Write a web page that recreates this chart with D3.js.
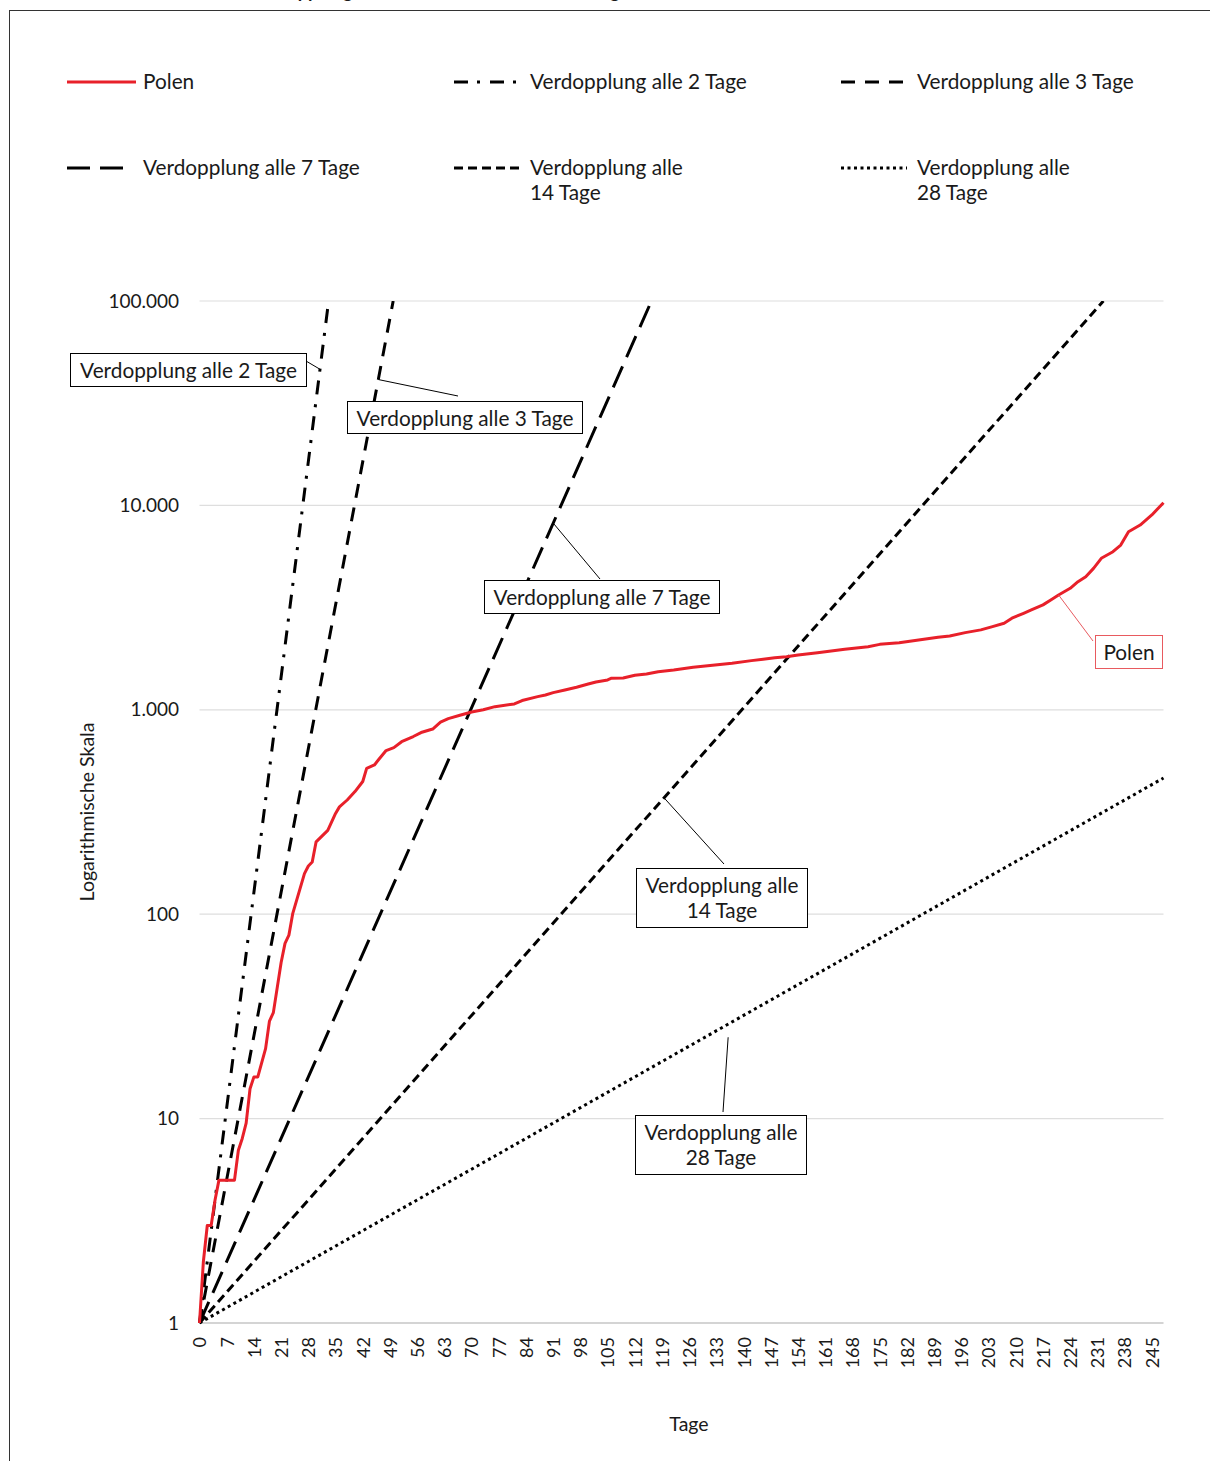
<!DOCTYPE html>
<html>
<head>
<meta charset="utf-8">
<script src="https://cdn.jsdelivr.net/npm/d3@7"></script>
<style>
  body { margin: 0; background: #fff; }
  svg text { font-family: Lato, "Noto Sans", sans-serif; fill: #1a1a1a; }
</style>
</head>
<body>
<svg id="chart" width="1210" height="1461"></svg>
<script>
// Cumulative deaths in Poland, days since the first death
const polenDays = [0,1,2,3,4,5,9,10,11,12,13,14,15,17,18,19,21,22,23,24,27,28,29,30,33,35,36,38,40,42,43,45,46,48,50,52,55,57,60,62,64,67,70,73,76,81,83,87,89,91,94,97,100,102,105,106,109,112,115,118,122,127,132,137,142,145,148,151,154,159,163,166,172,175,180,185,190,193,197,201,204,207,209,212,214,217,219,221,224,226,228,230,232,235,237,239,242,245,248];
const polenDeaths = [1,2,3,3,4,5,5,7,8,9.5,14,16,16,22,30,33,58,72,79,101,158,172,180,226,257,311,335,362,398,446,517,537,568,632,653,698,740,774,805,870,905,940,976,1000,1036,1068,1110,1160,1182,1213,1250,1289,1337,1368,1400,1427,1430,1475,1497,1536,1566,1615,1652,1690,1740,1767,1799,1820,1855,1903,1945,1977,2036,2090,2128,2193,2263,2296,2385,2460,2553,2651,2806,2967,3080,3261,3447,3647,3930,4233,4480,4920,5510,5935,6395,7430,8015,8980,10310];

// Reference lines: constant doubling time in days
const doublingPeriods = [2, 3, 7, 14, 28];
const doublingNames = ["Verdopplung alle 2 Tage", "Verdopplung alle 3 Tage", "Verdopplung alle 7 Tage",
                       "Verdopplung alle 14 Tage", "Verdopplung alle 28 Tage"];

const xTickLabels = [0,7,14,21,28,35,42,49,56,63,70,77,84,91,98,105,112,119,126,133,140,147,154,161,168,175,182,189,196,203,210,217,224,231,238,245];
const yTickValues = [1, 10, 100, 1000, 10000, 100000];
const yTickLabels = ["1", "10", "100", "1.000", "10.000", "100.000"];

const RED = "#e8202a";
const FONT = 20.8;
const lineStyle = {
  "Polen": { stroke: RED, dash: null },
  "Verdopplung alle 2 Tage": { stroke: "#000", dash: "14,9,3,10" },
  "Verdopplung alle 3 Tage": { stroke: "#000", dash: "14,10" },
  "Verdopplung alle 7 Tage": { stroke: "#000", dash: "23,10" },
  "Verdopplung alle 14 Tage": { stroke: "#000", dash: "9,5" },
  "Verdopplung alle 28 Tage": { stroke: "#000", dash: "3,3.5" }
};

const svg = d3.select("#chart");

// Frame and heading running off the top edge
svg.append("rect").attr("x", 9.5).attr("y", 10.5).attr("width", 1220).attr("height", 1470)
  .attr("fill", "none").attr("stroke", "#333").attr("stroke-width", 1);
svg.append("text").attr("x", 250).attr("y", -2)
  .attr("font-size", 18).attr("font-weight", "bold")
  .text("Verdopplungszeit der Todesfälle in Polen – Tage seit dem ersten Todesfall");

const x = d3.scaleLinear().domain([0, 248]).range([199.5, 1163.5]);
const y = d3.scaleLog().domain([1, 100000]).range([1323, 301]);

// Gridlines + y labels
const grid = svg.append("g");
grid.selectAll("line").data(yTickValues).join("line")
  .attr("x1", x(0)).attr("x2", x(248))
  .attr("y1", d => y(d)).attr("y2", d => y(d))
  .attr("stroke", (d, i) => i === 0 ? "#d4d4d4" : "#dedede")
  .attr("stroke-width", (d, i) => i === 0 ? 2 : 1.2);

const yAxis = d3.axisLeft(y).tickValues(yTickValues)
  .tickFormat((d, i) => yTickLabels[i]).tickSize(0).tickPadding(0);
svg.append("g").attr("transform", "translate(179,0)").call(yAxis)
  .call(g => g.select(".domain").remove())
  .selectAll("text").attr("font-size", 19).attr("fill", "#1a1a1a")
  .style("font-family", "Lato, 'Noto Sans', sans-serif");

const xAxis = d3.axisBottom(x).tickValues(xTickLabels).tickSize(0).tickPadding(0);
svg.append("g").attr("transform", "translate(0,1323)").call(xAxis)
  .call(g => g.select(".domain").remove())
  .selectAll("text")
  .attr("font-size", 18)
  .attr("text-anchor", "end")
  .attr("transform", "rotate(-90)")
  .attr("x", -14).attr("y", 0).attr("dy", "0.35em")
  .style("font-family", "Lato, 'Noto Sans', sans-serif");

// Axis titles
svg.append("text").attr("transform", "translate(94,812) rotate(-90)")
  .attr("text-anchor", "middle").attr("font-size", 19.5).text("Logarithmische Skala");
svg.append("text").attr("x", 689).attr("y", 1431)
  .attr("text-anchor", "middle").attr("font-size", 19.5).text("Tage");

// Plot clip
svg.append("clipPath").attr("id", "plot").append("rect")
  .attr("x", x(0) - 2).attr("y", y(100000)).attr("width", x(248) - x(0) + 4).attr("height", y(1) - y(100000) + 4);
const plot = svg.append("g").attr("clip-path", "url(#plot)");

const line = d3.line().x(d => x(d[0])).y(d => y(d[1]));

// Doubling lines: straight on a log scale, from 1 at day 0 up to the top of the axis
doublingPeriods.forEach((k, i) => {
  const endDay = Math.min(248, k * Math.log2(100000));
  const pts = [[0, 1], [endDay, Math.pow(2, endDay / k)]];
  const st = lineStyle[doublingNames[i]];
  plot.append("path").datum(pts).attr("d", line)
    .attr("fill", "none").attr("stroke", st.stroke).attr("stroke-width", 3)
    .attr("stroke-dasharray", st.dash);
});

// Poland
plot.append("path").datum(polenDays.map((d, i) => [d, polenDeaths[i]]))
  .attr("d", line).attr("fill", "none").attr("stroke", RED)
  .attr("stroke-width", 3).attr("stroke-linejoin", "round");

// Legend
const legendItems = [
  { name: "Polen", lines: ["Polen"] },
  { name: "Verdopplung alle 2 Tage", lines: ["Verdopplung alle 2 Tage"] },
  { name: "Verdopplung alle 3 Tage", lines: ["Verdopplung alle 3 Tage"] },
  { name: "Verdopplung alle 7 Tage", lines: ["Verdopplung alle 7 Tage"] },
  { name: "Verdopplung alle 14 Tage", lines: ["Verdopplung alle", "14 Tage"] },
  { name: "Verdopplung alle 28 Tage", lines: ["Verdopplung alle", "28 Tage"] }
];
const legendCols = [67, 454, 841];
const legendRows = [82, 168];
const legend = svg.append("g");
legendItems.forEach((it, i) => {
  const lx = legendCols[i % 3], ly = legendRows[Math.floor(i / 3)];
  const st = lineStyle[it.name];
  legend.append("line").attr("x1", lx).attr("x2", lx + (i === 0 ? 69 : 66))
    .attr("y1", ly).attr("y2", ly)
    .attr("stroke", st.stroke).attr("stroke-width", 3).attr("stroke-dasharray", st.dash);
  const t = legend.append("text").attr("x", lx + 76).attr("y", ly + 7).attr("font-size", FONT);
  it.lines.forEach((s, j) => t.append("tspan").attr("x", lx + 76).attr("dy", j ? 25 : 0).text(s));
});

// Callouts: box in page layout, leader to a point on its line
const callouts = [
  { lines: ["Verdopplung alle 2 Tage"], box: [70.5, 353.5, 236, 33], from: [306, 361], at: [31, Math.pow(2, 31 / 2)], color: "#000" },
  { lines: ["Verdopplung alle 3 Tage"], box: [347.5, 401.5, 235, 32], from: [458, 396], at: [46, Math.pow(2, 46 / 3)], color: "#000" },
  { lines: ["Verdopplung alle 7 Tage"], box: [484.5, 580.5, 235, 33], from: [600, 579], at: [91, Math.pow(2, 91 / 7)], color: "#000" },
  { lines: ["Verdopplung alle", "14 Tage"], box: [636.5, 868.5, 171, 59], from: [724, 864], at: [119.5, Math.pow(2, 119.5 / 14)], color: "#000" },
  { lines: ["Verdopplung alle", "28 Tage"], box: [635.5, 1115.5, 171, 59], from: [723, 1112], at: [136, 25], color: "#000" },
  { lines: ["Polen"], box: [1095.5, 635.5, 67, 33], from: [1093, 641], at: [221, 3647], color: "#e85a5f" }
];
const cg = svg.append("g");
callouts.forEach(c => {
  cg.append("line").attr("x1", c.from[0]).attr("y1", c.from[1])
    .attr("x2", x(c.at[0])).attr("y2", y(c.at[1]))
    .attr("stroke", c.color).attr("stroke-width", 1);
  const [bx, by, bw, bh] = c.box;
  cg.append("rect").attr("x", bx).attr("y", by).attr("width", bw).attr("height", bh)
    .attr("fill", "#fff").attr("stroke", c.color).attr("stroke-width", 1);
  const t = cg.append("text").attr("text-anchor", "middle").attr("font-size", FONT)
    .attr("x", bx + bw / 2).attr("y", by + 24);
  c.lines.forEach((s, j) => t.append("tspan").attr("x", bx + bw / 2).attr("dy", j ? 25 : 0).text(s));
});
</script>
</body>
</html>
